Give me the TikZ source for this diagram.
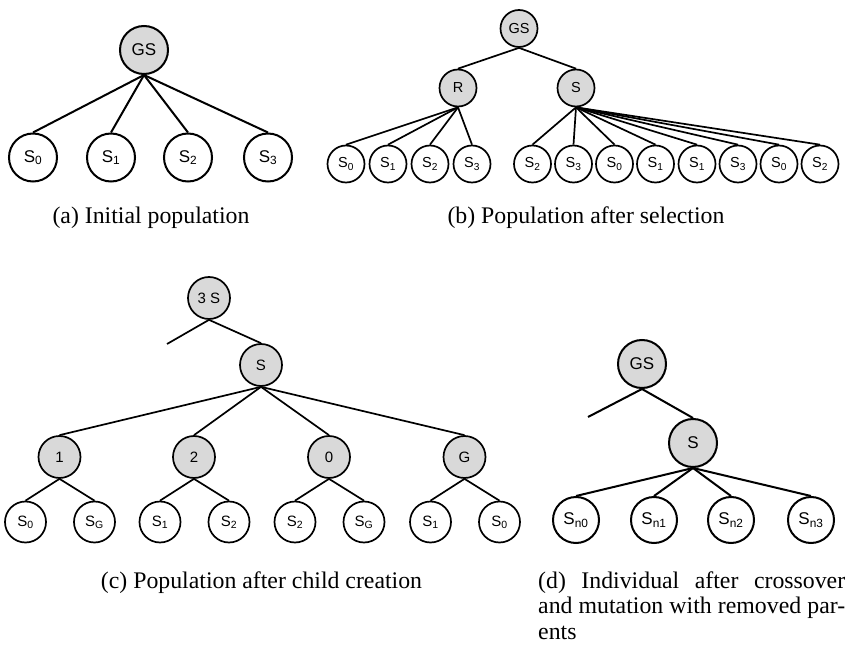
\documentclass[tikz,border=0pt]{standalone}
\usepackage{fontspec}
\setmainfont{Liberation Serif}
\setsansfont{Liberation Sans}
\definecolor{shade}{HTML}{D9D9D9}
\newcommand{\capfont}{\rmfamily\fontsize{23.8}{25.5}\selectfont}
\begin{document}
\begin{tikzpicture}[x=1pt,y=-1pt,
  vertex/.style={circle, draw=black, inner sep=0pt, text=black},
  gnode/.style={vertex, fill=shade},
  wnode/.style={vertex, fill=white},
  sizelarge/.style={minimum size=48pt, line width=2pt, font=\sffamily\fontsize{17}{20}\selectfont},
  sizesmall/.style={minimum size=37pt, line width=1.7pt, font=\sffamily\fontsize{14.5}{17}\selectfont},
  sizemid/.style={minimum size=42pt, line width=1.7pt, font=\sffamily\fontsize{15}{18}\selectfont},
  linkthick/.style={line width=2pt},
  linkthin/.style={line width=1.7pt},
  caption/.style={anchor=base, inner sep=0pt, font=\capfont}
]
\useasboundingbox (0,0) rectangle (849,650);

% ---------- (a) initial population ----------
\node[gnode,sizelarge] (aGS) at (144,50) {GS};
\node[wnode,sizelarge] (aS0) at (33,157.5) {S\textsubscript{0}};
\node[wnode,sizelarge] (aS1) at (111,157.5) {S\textsubscript{1}};
\node[wnode,sizelarge] (aS2) at (188,157.5) {S\textsubscript{2}};
\node[wnode,sizelarge] (aS3) at (268,157.5) {S\textsubscript{3}};
\foreach \c in {aS0,aS1,aS2,aS3}
  \draw[linkthick] (aGS.south) -- (\c.north);
\node[caption] (capA) at (151,223) {(a) Initial population};

% ---------- (b) population after selection ----------
\node[gnode,sizesmall] (bGS) at (519,28.5) {GS};
\node[gnode,sizesmall] (bR) at (458,88) {R};
\node[gnode,sizesmall] (bS) at (576,88) {S};
\draw[linkthin] (bGS.south) -- (bR.north);
\draw[linkthin] (bGS.south) -- (bS.north);
\foreach \x/\s [count=\i] in {346/0,388/1,430/2,472/3} {
  \node[wnode,sizesmall] (bR\i) at (\x,164) {S\textsubscript{\s}};
  \draw[linkthin] (bR.south) -- (bR\i.north);
}
\foreach \x/\s [count=\i] in {532.5/2,573.5/3,614.5/0,655.5/1,697/1,738/3,779/0,820/2} {
  \node[wnode,sizesmall] (bS\i) at (\x,164) {S\textsubscript{\s}};
  \draw[linkthin] (bS.south) -- (bS\i.north);
}
\node[caption] (capB) at (586,223) {(b) Population after selection};

% ---------- (c) population after child creation ----------
\node[gnode,sizemid] (cTop) at (209,298) {3 S};
\coordinate (cStub) at (167,344);
\node[gnode,sizemid] (cS) at (261,365) {S};
\draw[linkthin] (cTop.south) -- (cStub);
\draw[linkthin] (cTop.south) -- (cS.north);
\foreach \x/\t/\l/\r [count=\i] in {59.5/1/0/G, 194/2/1/2, 329/0/2/G, 464.5/G/1/0} {
  \node[gnode,sizemid] (cP\i) at (\x,457) {\t};
  \draw[linkthin] (cS.south) -- (cP\i.north);
  \node[wnode,sizemid,minimum size=41pt] (cL\i) at (\x-34,522) {S\textsubscript{\l}};
  \node[wnode,sizemid,minimum size=41pt] (cR\i) at (\x+35,522) {S\textsubscript{\r}};
  \draw[linkthin] (cP\i.south) -- (cL\i.north);
  \draw[linkthin] (cP\i.south) -- (cR\i.north);
}
\node[caption] (capC) at (261.5,588) {(c) Population after child creation};

% ---------- (d) individual after crossover and mutation ----------
\node[gnode,sizelarge] (dGS) at (642,364) {GS};
\coordinate (dStub) at (588,417);
\node[gnode,sizelarge] (dS) at (693,443) {S};
\draw[linkthick] (dGS.south) -- (dStub);
\draw[linkthick] (dGS.south) -- (dS.north);
\foreach \x/\s in {576/n0,654/n1,731/n2,811/n3} {
  \node[wnode,sizelarge,minimum size=46pt] (d\s) at (\x,520) {S\textsubscript{\s}};
  \draw[linkthick] (dS.south) -- (d\s.north);
}
\node[caption, anchor=base west] (capD) at (538,588)
  {\parbox[t]{307pt}{\makebox[307pt][s]{(d) Individual after crossover}\\
   \makebox[307pt][s]{and mutation with removed par-}\\
   ents}};
\end{tikzpicture}
\end{document}
